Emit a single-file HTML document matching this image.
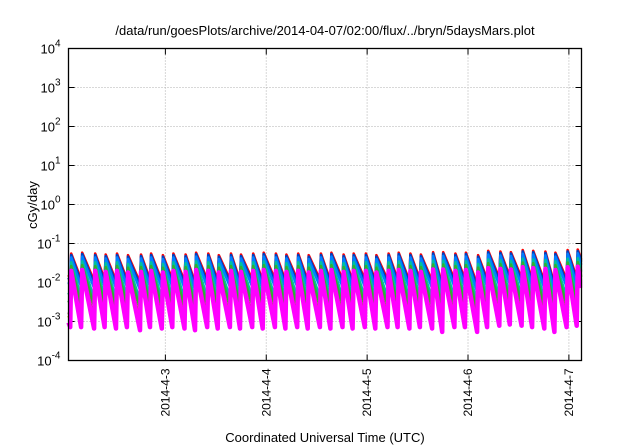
<!DOCTYPE html>
<html><head><meta charset="utf-8"><style>
html,body{margin:0;padding:0;background:#fff;}
svg{display:block;font-family:"Liberation Sans",sans-serif;}
</style></head><body>
<svg id="chart" width="640" height="448" viewBox="0 0 640 448"></svg>
<script>
// ---- data ----
const peakHours = [1.6,4.2,7.3,9.8,12.5,15.1,18.2,20.6,23.4,25.9,28.8,31.3,34.2,36.7,39.6,42.0,44.9,47.4,50.3,52.8,55.6,58.1,61.0,63.5,66.4,68.8,71.7,74.2,77.1,79.5,82.3,84.8,87.7,90.1,93.0,95.5,98.4,100.8,103.7,106.2,109.0,111.5,114.4,116.8,119.7,122.1];
const redPeaks = [0.055,0.058,0.055,0.052,0.055,0.05,0.052,0.055,0.05,0.055,0.052,0.058,0.055,0.05,0.055,0.052,0.055,0.058,0.055,0.052,0.055,0.05,0.055,0.058,0.052,0.055,0.055,0.05,0.055,0.058,0.055,0.052,0.06,0.06,0.055,0.058,0.05,0.065,0.062,0.06,0.068,0.065,0.062,0.058,0.068,0.07];
const redTroughs = [0.012,0.011,0.012,0.011,0.012,0.010,0.012,0.011,0.012,0.011,0.010,0.012,0.011,0.012,0.011,0.012,0.011,0.012,0.011,0.012,0.011,0.012,0.011,0.012,0.011,0.012,0.011,0.012,0.012,0.011,0.012,0.011,0.009,0.012,0.012,0.009,0.012,0.013,0.014,0.013,0.012,0.011,0.009,0.012,0.013,0.012];
const startValue = 0.012;
const seriesColors = ["#ff0000","#0040c0","#0080ff","#00c0a0","#30b030","#a0406a","#e0a000","#ff00ff"];
const seriesPeakFactor = [1.0,0.92,0.8,0.6,0.48,0.38,0.36,0.36];
const seriesTroughFactor = [1.0,0.85,0.65,0.35,0.22,0.11,0.09,0.06];
const yTicks = [-4,-3,-2,-1,0,1,2,3,4];
const xTickLabels = ["2014-4-3","2014-4-4","2014-4-5","2014-4-6","2014-4-7"];
const xTickHours = [24,48,72,96,120];

// ---- layout ----
const NS="http://www.w3.org/2000/svg";
const svg=document.getElementById('chart');
const L=68.5,R=581.5,T=48.5,B=360.5;
const hMin=0.95,hMax=123.0;
const xs=h=>L+(h-hMin)/(hMax-hMin)*(R-L);
const ys=v=>B-(Math.log10(v)+4)/8*(B-T);
function mk(tag,attrs,parent){const e=document.createElementNS(NS,tag);for(const k in attrs)e.setAttribute(k,attrs[k]);(parent||svg).appendChild(e);return e;}

const grid=mk('g',{});


yTicks.forEach(p=>{const y=ys(Math.pow(10,p));
 if(p>-4&&p<4)mk('line',{x1:L,x2:R,y1:y,y2:y,stroke:'#b0b0b0','stroke-dasharray':'1,2','stroke-width':1},grid);
 mk('line',{x1:L,x2:L+6,y1:y,y2:y,stroke:'#000'},grid);
 mk('line',{x1:R-6,x2:R,y1:y,y2:y,stroke:'#000'},grid);
 const t=mk('text',{x:L-8,y:y+5,'text-anchor':'end','font-size':13,fill:'#000'});
 
 
 t.textContent='10';
 const s=mk('tspan',{dy:-7,'font-size':10},t);s.textContent=String(p);
});
xTickHours.forEach((h,i)=>{const x=xs(h);
 mk('line',{x1:x,x2:x,y1:T,y2:B,stroke:'#b0b0b0','stroke-dasharray':'1,2'},grid);
 mk('line',{x1:x,x2:x,y1:B-6,y2:B,stroke:'#000'},grid);
 mk('line',{x1:x,x2:x,y1:T,y2:T+6,stroke:'#000'},grid);
 const t=mk('text',{x:0,y:0,'text-anchor':'end','font-size':12,transform:`translate(${x+4},${B+8}) rotate(-90)`});
 
 
 t.textContent=xTickLabels[i];
});

const series=mk('g',{});


seriesColors.forEach((c,si)=>{
 const pts=[[hMin,startValue*seriesTroughFactor[si]*1.3]];
 peakHours.forEach((h,i)=>{
  const tr=(i===0?startValue:redTroughs[i-1])*seriesTroughFactor[si];
  pts.push([h-0.25,tr]);
  pts.push([h,redPeaks[i]*seriesPeakFactor[si]]);
 });
 const lastT=redTroughs[redTroughs.length-1]*seriesTroughFactor[si];
 pts.push([hMax,Math.exp(Math.log(redPeaks[redPeaks.length-1]*seriesPeakFactor[si])*0.65+Math.log(lastT)*0.35)]);
 const d=pts.map((p,i)=>(i?'L':'M')+xs(p[0]).toFixed(1)+','+ys(p[1]).toFixed(1)).join('');
 const path=mk('path',{d,fill:'none',stroke:c,'stroke-width':si===7?4.5:2.6,'stroke-linejoin':'round'},series);
 
 
});
const mask=mk('rect',{x:R+0.7,y:T,width:20,height:B-T,fill:'#fff'});


const frame=mk('rect',{x:L,y:T,width:R-L,height:B-T,fill:'none',stroke:'#000','stroke-width':1.3});



const title=mk('text',{x:325,y:35,'text-anchor':'middle','font-size':13});


title.textContent='/data/run/goesPlots/archive/2014-04-07/02:00/flux/../bryn/5daysMars.plot';
const yt=mk('text',{x:0,y:0,'text-anchor':'middle','font-size':13,transform:'translate(37,205) rotate(-90)'});


yt.textContent='cGy/day';
const xt=mk('text',{x:325,y:442,'text-anchor':'middle','font-size':13});


xt.textContent='Coordinated Universal Time (UTC)';
</script>
</body></html>
